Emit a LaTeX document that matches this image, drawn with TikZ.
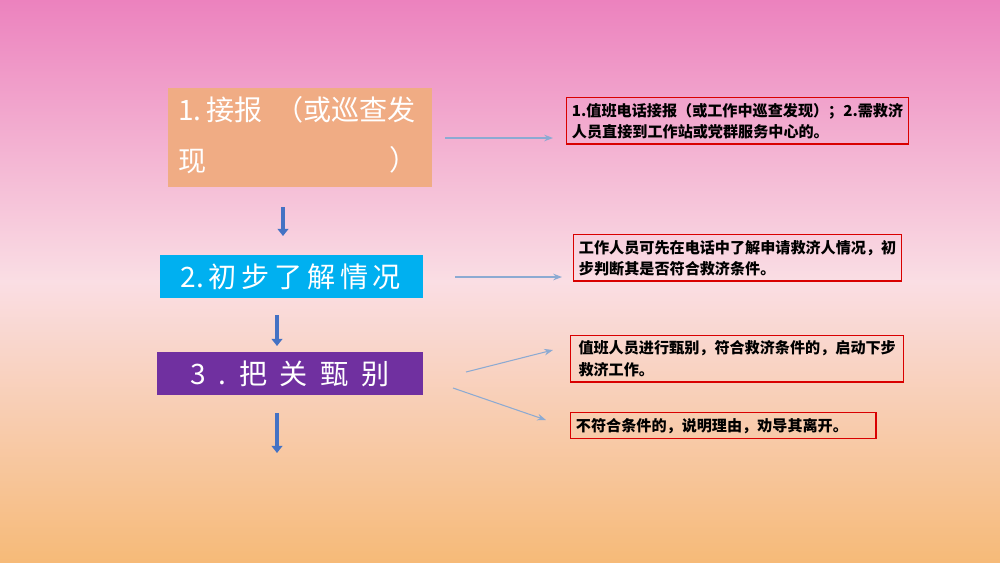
\documentclass[tikz,border=0pt]{standalone}
\usepackage{fontspec}
\setmainfont{Noto Sans CJK SC}
\usetikzlibrary{arrows.meta}
\definecolor{pk}{RGB}{236,130,190}
\definecolor{lp}{RGB}{250,222,228}
\definecolor{og}{RGB}{246,186,120}
\definecolor{c1}{RGB}{240,172,132}
\definecolor{c2}{RGB}{0,176,240}
\definecolor{c3}{RGB}{112,48,160}
\definecolor{dn}{RGB}{68,114,196}
\definecolor{ln}{RGB}{140,170,210}
\begin{document}
\begin{tikzpicture}[x=0.02cm,y=-0.02cm,
  big/.style={text=white,font=\fontsize{16}{22}\selectfont,inner sep=0pt},
  note/.style={draw=red!85!black,line width=0.8pt,anchor=north west,align=left,font=\fontsize{8.6}{12}\selectfont\bfseries,inner sep=3pt},
  down/.style={draw=dn,line width=2pt,-{Triangle[length=4pt,width=6pt]}},
  link/.style={draw=ln,line width=0.6pt,-{Stealth[length=5pt]}}]
\shade[top color=pk,bottom color=og,middle color=lp] (0,0) rectangle (1000,562);
\useasboundingbox (0,0) rectangle (1000,562);
\fill[c1] (168,88) rectangle (432,187);
\node[big,anchor=west] (t1a) at (178,110) {1.\,接报\ \ （或巡查发};
\node[big,anchor=west] (t1b) at (178,162) {现};
\node[big,anchor=east] (t1c) at (418,160) {）};
\fill[c2] (160,255) rectangle (423,298);
\node[big] (t2) at (291,277) {2.\,初\,步\,了\,解\,情\,况};
\fill[c3] (157,352) rectangle (423,395);
\node[big] (t3) at (290,374) {3\ \ .\ \ 把\ \ 关\ \ 甄\ \ 别};
\coordinate (d1a) at (283,207); \coordinate (d1b) at (283,236);
\coordinate (d2a) at (277,315); \coordinate (d2b) at (277,346);
\coordinate (d3a) at (277,413); \coordinate (d3b) at (277,453);
\draw[down] (d1a) -- (d1b);
\draw[down] (d2a) -- (d2b);
\draw[down] (d3a) -- (d3b);
\node[note,minimum width=6.82cm,minimum height=0.92cm] (n1) at (566,97) {1.值班电话接报（或工作中巡查发现）；2.需救济\\人员直接到工作站或党群服务中心的。};
\node[note,minimum width=6.52cm,minimum height=0.88cm] (n2) at (573,234) {工作人员可先在电话中了解申请救济人情况，初\\步判断其是否符合救济条件。};
\node[note,minimum width=6.66cm,minimum height=0.86cm] (n3) at (570,335) {值班人员进行甄别，符合救济条件的，启动下步\\救济工作。};
\node[note,text width=5.9cm,minimum height=0.5cm] (n4) at (570,412) {不符合条件的，说明理由，劝导其离开。};
\coordinate (s1) at (445,138); \coordinate (e1) at (553,138);
\coordinate (s2) at (455,277); \coordinate (e2) at (562,277);
\coordinate (s3) at (466,372); \coordinate (e3) at (553,350);
\coordinate (s4) at (453,388); \coordinate (e4) at (546,420);
\draw[link] (s1) -- (e1);
\draw[link] (s2) -- (e2);
\draw[link] (s3) -- (e3);
\draw[link] (s4) -- (e4);
\end{tikzpicture}
\end{document}
